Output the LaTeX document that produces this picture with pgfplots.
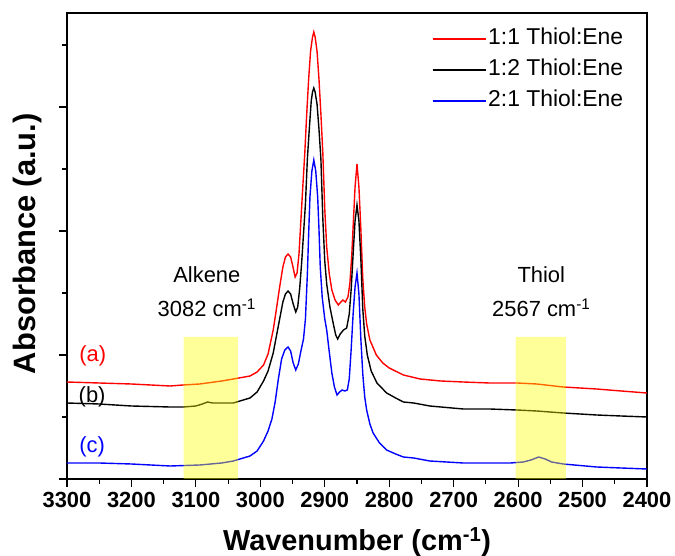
\documentclass[border=0pt]{standalone}
\usepackage{fontspec}
\setmainfont{Liberation Sans}
\usepackage{pgfplots}
\pgfplotsset{compat=1.18}

\definecolor{hl}{rgb}{1,1,0}

\begin{document}
\begin{tikzpicture}
\path[use as bounding box] (0,0) rectangle (675bp,556bp);
\begin{axis}[
  at={(67bp,77bp)}, anchor=south west,
  width=580bp, height=466bp, scale only axis,
  x dir=reverse,
  xmin=2400, xmax=3300, ymin=0, ymax=466,
  xtick={2400,2500,...,3300},
  minor x tick num=1,
  ytick={0,124,248,372}, minor ytick={62,186,310,434},
  yticklabels={},
  xtick pos=bottom, ytick pos=left,
  tick align=outside,
  major tick length=8bp, minor tick length=5bp,
  axis line style={line width=1.2pt},
  every tick/.style={line width=1.2pt, black},
  /pgf/number format/assume math mode=true,
  /pgf/number format/1000 sep={},
  xticklabel style={font=\fontsize{22}{26}\selectfont\bfseries, inner sep=3bp, yshift=-2bp},
  xlabel={Wavenumber (cm\textsuperscript{-1})},
  ylabel={Absorbance (a.u.)},
  xlabel style={font=\fontsize{29}{34}\selectfont\bfseries,
                at={(axis description cs:0.5,0)}, anchor=base, yshift=-71bp},
  ylabel style={font=\fontsize{31}{36}\selectfont\bfseries,
                at={(axis description cs:-0.055,0.505)}, anchor=base},
  legend style={draw=none, fill=none, font=\fontsize{23}{27}\selectfont,
                at={(axis description cs:0.968,0.977)}, anchor=north east,
                row sep=5bp,
                nodes={inner sep=2bp, text height=17bp, text depth=5bp}},
  legend cell align=left,
  legend image code/.code={\draw[#1] (0bp,0bp) -- (53bp,0bp);},
]
% spectra
\addplot[red, line width=1.4pt] coordinates {
(3300,97)(3250,96)(3200,95)(3140,93)(3120,94)(3094,95)(3060,98)(3042,100)
(3016,103)(3005,107)(2995,114)(2988,125)(2980,149)(2975,170)(2970,192)
(2965,212)(2961,222)(2957,225)(2953,222)(2950,214)(2946,202)(2943,206)
(2940,225)(2937,259)(2934,293)(2931,326)(2928,365)(2925,400)(2922,428)
(2919,442)(2917,447)(2915,442)(2912,428)(2909,400)(2906,365)(2903,326)
(2900,270)(2897,232)(2893,205)(2889,189)(2884,179)(2879,174)(2875,177)
(2872,179)(2868,177)(2864,182)(2861,196)(2858,225)(2856,252)(2853,292)
(2850,315)(2847,292)(2844,250)(2841,200)(2838,172)(2835,155)(2830,139)
(2820,124)(2810,116)(2800,111)(2778,104)(2752,100)(2720,98)(2685,97)
(2644,96)(2602,96)(2571,95)(2530,92)(2478,90)(2440,88)(2400,86)};
\addlegendentry{1:1 Thiol:Ene}
\addplot[black, line width=1.4pt] coordinates {
(3300,76)(3250,75)(3200,73)(3140,72)(3119,72)(3100,73)(3090,75)(3082,77)
(3074,76)(3065,76)(3042,76)(3016,81)(3005,87)(2995,98)(2988,108)(2980,126)
(2975,143)(2970,160)(2965,177)(2961,185)(2957,188)(2953,185)(2949,175)
(2945,167)(2942,172)(2939,190)(2936,215)(2933,245)(2930,275)(2927,320)
(2924,350)(2921,378)(2919,387)(2917,391)(2915,387)(2912,375)(2909,350)
(2906,320)(2903,260)(2900,218)(2897,195)(2892,172)(2887,156)(2883,144)
(2880,140)(2876,145)(2871,149)(2866,151)(2862,165)(2859,190)(2856,225)
(2853,258)(2850,274)(2847,258)(2844,220)(2841,170)(2838,143)(2834,124)
(2828,108)(2819,96)(2804,86)(2790,81)(2778,77)(2762,76)(2737,73)(2685,70)
(2644,70)(2602,69)(2571,68)(2530,66)(2478,64)(2440,63)(2400,62)};
\addlegendentry{1:2 Thiol:Ene}
\addplot[blue, line width=1.4pt] coordinates {
(3300,16)(3250,16)(3200,15)(3140,13)(3094,14)(3060,16)(3042,18)(3016,23)
(3005,28)(2995,38)(2988,48)(2982,60)(2977,77)(2972,100)(2967,120)(2962,129)
(2957,132)(2953,128)(2949,116)(2945,109)(2941,115)(2937,128)(2933,140)
(2930,160)(2927,205)(2925,245)(2923,282)(2920,308)(2917,319)(2914,308)
(2911,282)(2909,250)(2907,212)(2904,182)(2900,160)(2897,149)(2893,127)
(2889,106)(2885,92)(2881,84)(2877,87)(2873,89)(2869,88)(2865,89)(2862,100)
(2859,130)(2856,165)(2853,192)(2850,206)(2847,185)(2844,140)(2841,105)
(2838,82)(2835,69)(2830,55)(2825,46)(2815,36)(2804,29)(2790,25)(2778,22)
(2762,21)(2737,18)(2685,16)(2644,16)(2612,16)(2592,17)(2580,19)(2568,22)
(2558,20)(2548,17)(2530,15)(2478,12)(2440,11)(2400,10)};
\addlegendentry{2:1 Thiol:Ene}
% highlighted bands
\addplot[draw=none, fill=hl, fill opacity=0.4, forget plot]
  coordinates {(3119,0)(3119,142)(3035,142)(3035,0)} \closedcycle;
\addplot[draw=none, fill=hl, fill opacity=0.4, forget plot]
  coordinates {(2604,0)(2604,142)(2526,142)(2526,0)} \closedcycle;
% annotations
\begin{scope}[every node/.style={font=\fontsize{22}{26}\selectfont}]
\node at (axis cs:3083,204) {Alkene};
\node at (axis cs:3083,171) {3082 cm\textsuperscript{-1}};
\node at (axis cs:2564,204) {Thiol};
\node at (axis cs:2564,171) {2567 cm\textsuperscript{-1}};
\node[text=red]   at (axis cs:3260,123) {(a)};
\node[text=black] at (axis cs:3261,82)  {(b)};
\node[text=blue]  at (axis cs:3261,32)  {(c)};
\end{scope}
\end{axis}
\end{tikzpicture}
\end{document}
